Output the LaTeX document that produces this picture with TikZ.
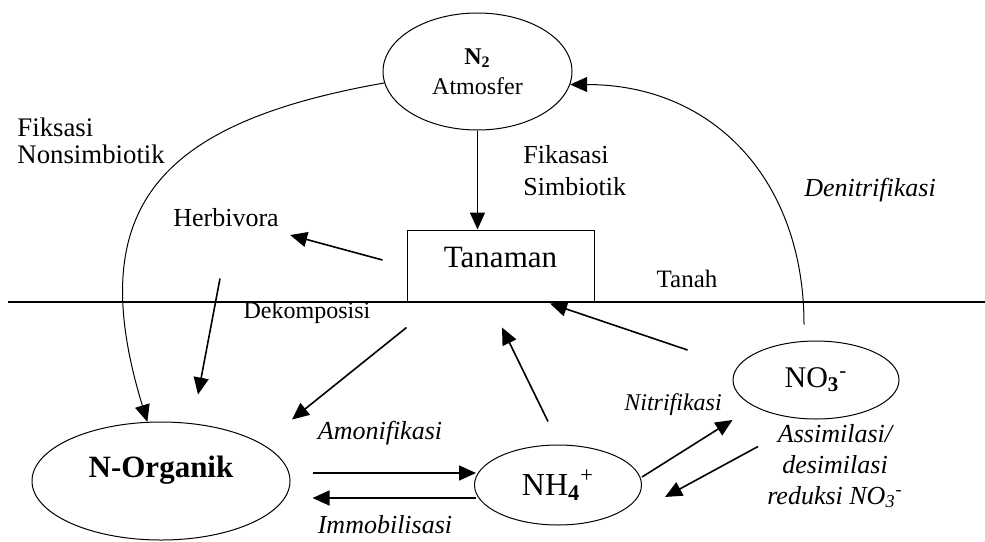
\documentclass[tikz,border=0pt]{standalone}
\usepackage{fontspec}
\setmainfont{Liberation Serif}
\usetikzlibrary{shapes.geometric,arrows.meta,calc}

\begin{document}
\begin{tikzpicture}[x=0.5pt, y=-0.5pt,
    main/.style = {draw, ellipse, line width=0.5pt, inner sep=0pt},
    box/.style = {draw, rectangle, line width=0.5pt, inner sep=0pt},
    lbl/.style = {inner sep=0pt, font=\fontsize{13}{16}\selectfont},
    itl/.style = {inner sep=0pt, font=\fontsize{13}{16}\selectfont\itshape},
    arr/.style = {line width=0.8pt, -{Triangle[length=8.5pt,width=7.5pt]}}]
      \useasboundingbox (0,0) rectangle (985,541);
      \node[main, minimum width=94.5pt, minimum height=58.5pt, align=center, font=\fontsize{12}{15}\selectfont] (1) at (477.5,71.5) {{\fontsize{12}{12}\selectfont\bfseries N\textsubscript{2}}\\Atmosfer};
      \node[box, minimum width=93.5pt, minimum height=36pt, font=\fontsize{15.5}{18}\selectfont] (2) at (500.5,266) {\raisebox{9pt}{Tanaman}};
      \node[main, minimum width=129pt, minimum height=59pt, font=\fontsize{15.5}{18}\selectfont\bfseries] (3) at (161,481) {\raisebox{14pt}{N-Organik}};
      \node[main, minimum width=83.5pt, minimum height=40pt, font=\fontsize{16}{18}\selectfont] (4) at (558,485) {NH\textsubscript{\textbf{4}}\textsuperscript{+}};
      \node[main, minimum width=83pt, minimum height=39pt, font=\fontsize{15}{18}\selectfont] (5) at (816,380) {NO\textsubscript{\textbf{3}}\textsuperscript{-}};
      \node[lbl] (6) at (226,218) {Herbivora};
      \node[lbl, anchor=west, align=left, font=\fontsize{13.4}{13.5}\selectfont] (7) at (17,141) {Fiksasi\\Nonsimbiotik};
      \node[lbl, anchor=west, align=left] (8) at (523,171) {Fikasasi\\Simbiotik};
      \node[itl] (9) at (870,190) {Denitrifikasi};
      \node[lbl, font=\fontsize{12.5}{15}\selectfont] (10) at (687,279) {Tanah};
      \node[lbl, font=\fontsize{12}{15}\selectfont] (11) at (307,313) {Dekomposisi};
      \node[itl] (12) at (380,433) {Amonifikasi};
      \node[itl] (13) at (385,525) {Immobilisasi};
      \node[itl, font=\fontsize{12}{15}\selectfont\itshape] (14) at (673,405) {Nitrifikasi};
      \node[itl, align=center, font=\fontsize{13}{15.5}\selectfont\itshape] (15) at (835,466) {Assimilasi/\\desimilasi\\reduksi NO\textsubscript{3}\textsuperscript{-}};
      \draw[line width=0.6pt] (8,302) -- (985,302);
      \path[arr]
      (1.south) edge (1.south |- 2.north)
      ($(2.west)+(-24,-6)$) edge ($(6.east)+(11,17)$)
      ($(6.south)+(-6,51)$) edge ($(3.north)+(37,-27)$)
      ($(2.south west)+(0,25)$) edge ($(3.north)+(131,-2)$)
      ($(3.east)+(22,-8)$) edge ($(4.west)+(2,-12)$)
      ($(4.west)+(2,13)$) edge ($(3.east)+(22,17)$)
      ($(4.north)+(-10,-23)$) edge ($(2.south)+(1.5,25)$)
      ($(5.west)+(-45,-30)$) edge ($(2.south)+(49.5,1)$)
      ($(4.east)+(0,-8)$) edge ($(5.west)+(0,40)$)
      ($(5.south)+(-58,27)$) edge ($(4.east)+(23,12)$)
      ;
      \path[arr, line width=0.5pt]
      (1.187) edge[out=190, in=107, looseness=1.4] (3.103)
      ($(5.north)+(-12,-16)$) edge[out=90, in=0, looseness=1.1] (1.352)
      ;
    \end{tikzpicture}
\end{document}
